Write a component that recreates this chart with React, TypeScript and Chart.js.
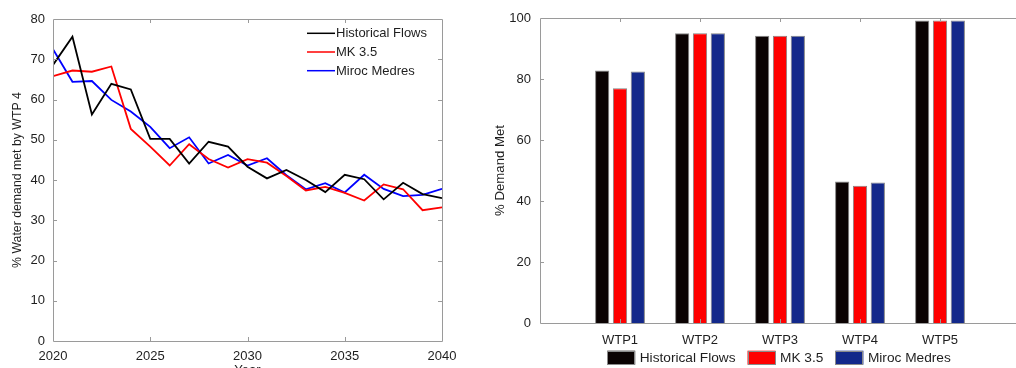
import React, { useEffect, useRef } from 'react';
import { Chart, registerables } from 'chart.js';

Chart.register(...registerables);

// ---------- Left chart data ----------
const years = [2020, 2021, 2022, 2023, 2024, 2025, 2026, 2027, 2028, 2029, 2030, 2031, 2032, 2033, 2034, 2035, 2036, 2037, 2038, 2039, 2040];
const historicalFlows = [68.6, 75.6, 56.3, 63.9, 62.5, 50.2, 50.2, 44.1, 49.5, 48.3, 43.3, 40.4, 42.5, 40.0, 37.0, 41.3, 40.2, 35.2, 39.3, 36.5, 35.5];
const mk35 = [65.8, 67.2, 66.9, 68.2, 52.7, 48.3, 43.6, 48.9, 45.2, 43.1, 45.2, 44.3, 41.0, 37.4, 38.3, 36.8, 34.9, 38.9, 37.7, 32.5, 33.2];
const mirocMedres = [72.5, 64.4, 64.6, 59.9, 57.0, 53.2, 47.9, 50.6, 44.1, 46.2, 43.6, 45.4, 41.2, 37.7, 39.2, 36.9, 41.3, 37.8, 36.0, 36.3, 37.8];
const seriesNames = ['Historical Flows', 'MK 3.5', 'Miroc Medres'];
const lineColors = ['#000000', '#ff0000', '#0000ff'];
const leftYTitle = '% Water demand met by WTP 4';
const leftXTitle = 'Year';

// ---------- Right chart data ----------
const plants = ['WTP1', 'WTP2', 'WTP3', 'WTP4', 'WTP5'];
const barHistorical = [82.8, 95.0, 94.2, 46.4, 99.2];
const barMk35 = [77.0, 95.0, 94.2, 45.0, 99.2];
const barMiroc = [82.5, 95.0, 94.2, 46.1, 99.2];
const barColors = ['#0a0202', '#ff0000', '#13288a'];
const rightYTitle = '% Demand Met';

const FONT = 'Liberation Sans, Arial, Helvetica, sans-serif';
const TEXT = '#1e1e1e';
const FRAME = '#9a9a9a';

Chart.defaults.font.family = FONT;
Chart.defaults.font.size = 13;
Chart.defaults.color = TEXT;

const framePlugin = {
  id: 'frameTicks',
  afterDatasetsDraw(chart: any, _args: any, opts: any) {
    const { ctx, chartArea, scales } = chart;
    const { left, right, top, bottom } = chartArea;
    const len = opts.len ?? 4;
    ctx.save();
    ctx.strokeStyle = FRAME;
    ctx.lineWidth = 1;
    ctx.beginPath();
    ctx.rect(Math.round(left) + 0.5, Math.round(top) + 0.5, Math.round(right - left), Math.round(bottom - top));
    const xs = scales.x;
    xs.ticks.forEach((t: any, i: number) => {
      if (opts.skipEmpty && (t.label === '' || t.label == null)) return;
      const px = Math.round(xs.getPixelForTick(i)) + 0.5;
      if (px <= left + 1 || px >= right - 1) return;
      ctx.moveTo(px, bottom);
      ctx.lineTo(px, bottom - len);
      ctx.moveTo(px, top);
      ctx.lineTo(px, top + len);
    });
    const ys = scales.y;
    ys.ticks.forEach((_t: any, i: number) => {
      const py = Math.round(ys.getPixelForTick(i)) + 0.5;
      if (py <= top + 1 || py >= bottom - 1) return;
      ctx.moveTo(left, py);
      ctx.lineTo(left + len, py);
      ctx.moveTo(right, py);
      ctx.lineTo(right - len, py);
    });
    ctx.stroke();
    ctx.restore();
  },
};

const lineLegendPlugin = {
  id: 'lineLegend',
  afterDraw(chart: any, _args: any, opts: any) {
    if (!opts || !opts.enabled) return;
    const { ctx, chartArea } = chart;
    const x0 = chartArea.right - opts.fromRight;
    const y0 = chartArea.top + opts.fromTop;
    ctx.save();
    ctx.font = `${opts.fontSize}px ${FONT}`;
    ctx.textBaseline = 'middle';
    ctx.textAlign = 'left';
    chart.data.datasets.forEach((ds: any, i: number) => {
      const y = y0 + i * opts.rowGap;
      ctx.strokeStyle = ds.borderColor;
      ctx.lineWidth = 1.5;
      ctx.beginPath();
      ctx.moveTo(x0, y);
      ctx.lineTo(x0 + opts.lineLen, y);
      ctx.stroke();
      ctx.fillStyle = TEXT;
      ctx.fillText(ds.label, x0 + opts.lineLen + 1, y + 0.5);
    });
    ctx.restore();
  },
};

const boxLegendPlugin = {
  id: 'boxLegend',
  afterDraw(chart: any, _args: any, opts: any) {
    if (!opts || !opts.enabled) return;
    const { ctx, chartArea } = chart;
    ctx.save();
    ctx.font = `${opts.fontSize}px ${FONT}`;
    ctx.textBaseline = 'middle';
    ctx.textAlign = 'left';
    const items = chart.data.datasets.map((ds: any) => ({
      label: ds.label,
      color: ds.backgroundColor,
      w: ctx.measureText(ds.label).width,
    }));
    const total = items.reduce((s: number, it: any) => s + opts.boxW + opts.textGap + it.w, 0) + opts.itemGap * (items.length - 1);
    let x = (chartArea.left + chartArea.right) / 2 + opts.centerShift - total / 2;
    const by = chartArea.bottom + opts.boxTop;
    items.forEach((it: any) => {
      ctx.fillStyle = it.color;
      ctx.fillRect(x, by, opts.boxW, opts.boxH);
      ctx.strokeStyle = '#8a8a8a';
      ctx.lineWidth = 1;
      ctx.strokeRect(Math.round(x) + 0.5, Math.round(by) + 0.5, opts.boxW - 1, opts.boxH - 1);
      ctx.fillStyle = TEXT;
      ctx.fillText(it.label, x + opts.boxW + opts.textGap, by + opts.boxH / 2 + 0.5);
      x += opts.boxW + opts.textGap + it.w + opts.itemGap;
    });
    ctx.restore();
  },
};

export default function App() {
  const leftRef = useRef<HTMLCanvasElement>(null);
  const rightRef = useRef<HTMLCanvasElement>(null);

  useEffect(() => {
    const lineSeries = [historicalFlows, mk35, mirocMedres];
    const left = new Chart(leftRef.current as HTMLCanvasElement, {
      type: 'line',
      data: {
        datasets: lineSeries.map((vals, k) => ({
          label: seriesNames[k],
          data: years.map((yr, i) => ({ x: yr, y: vals[i] })),
          borderColor: lineColors[k],
          backgroundColor: lineColors[k],
          borderWidth: 1.8,
          pointRadius: 0,
          tension: 0,
          fill: false,
        })),
      },
      options: {
        animation: false,
        responsive: false,
        events: [],
        layout: { padding: { left: 0, right: 28, top: 19, bottom: 0 } },
        plugins: {
          legend: { display: false },
          tooltip: { enabled: false },
          frameTicks: { len: 4 },
          lineLegend: { enabled: true, fromRight: 135, fromTop: 14.3, rowGap: 18.7, lineLen: 28, fontSize: 13 },
        } as any,
        scales: {
          x: {
            type: 'linear',
            min: 2020,
            max: 2040,
            ticks: { stepSize: 5, padding: 8, color: TEXT, font: { size: 13 }, callback: (v: any) => String(v) },
            grid: { display: false, drawTicks: false },
            border: { display: false },
            title: { display: true, text: leftXTitle, color: TEXT, font: { size: 13 }, padding: { top: 0, bottom: 2 } },
            afterFit: (s: any) => { s.height = 39; },
          },
          y: {
            type: 'linear',
            min: 0,
            max: 80,
            ticks: { stepSize: 10, padding: 8, color: TEXT, font: { size: 13 } },
            grid: { display: false, drawTicks: false },
            border: { display: false },
            title: { display: true, text: leftYTitle, color: TEXT, font: { size: 12.3 }, padding: { top: 10.5, bottom: 0 } },
            afterFit: (s: any) => { s.width = 53; },
          },
        },
      },
      plugins: [framePlugin, lineLegendPlugin],
    } as any);

    const barSeries = [barHistorical, barMk35, barMiroc];
    const right = new Chart(rightRef.current as HTMLCanvasElement, {
      type: 'bar',
      data: {
        labels: ['', ...plants, ''],
        datasets: barSeries.map((vals, k) => ({
          label: seriesNames[k],
          data: [null, ...vals, null],
          backgroundColor: barColors[k],
          borderColor: '#858585',
          borderWidth: 1,
          categoryPercentage: 0.668,
          barPercentage: 0.8,
        })),
      },
      options: {
        animation: false,
        responsive: false,
        events: [],
        layout: { padding: { left: 0, right: 5, top: 18, bottom: 24 } },
        plugins: {
          legend: { display: false },
          tooltip: { enabled: false },
          frameTicks: { len: 4, skipEmpty: true },
          boxLegend: { enabled: true, fontSize: 13.7, boxW: 28, boxH: 14, textGap: 4.5, itemGap: 12, boxTop: 27.7, centerShift: -1 },
        } as any,
        scales: {
          x: {
            type: 'category',
            offset: false,
            ticks: { padding: 10, autoSkip: false, maxRotation: 0, color: TEXT, font: { size: 13 } },
            grid: { display: false, drawTicks: false, offset: false },
            border: { display: false },
            afterFit: (s: any) => { s.height = 21; },
          },
          y: {
            type: 'linear',
            min: 0,
            max: 100,
            ticks: { stepSize: 20, padding: 9, color: TEXT, font: { size: 13 } },
            grid: { display: false, drawTicks: false },
            border: { display: false },
            title: { display: true, text: rightYTitle, color: TEXT, font: { size: 13.2 }, padding: { top: 22, bottom: 0 } },
            afterFit: (s: any) => { s.width = 70; },
          },
        },
      },
      plugins: [framePlugin, boxLegendPlugin],
    } as any);

    return () => {
      left.destroy();
      right.destroy();
    };
  }, []);

  return (
    <div style={{ position: 'fixed', left: 0, top: 0, width: 1016, height: 368, overflow: 'hidden', background: '#ffffff' }}>
      <canvas ref={leftRef} width={470} height={380} style={{ position: 'absolute', left: 0, top: 0, display: 'block' }} />
      <canvas ref={rightRef} width={560} height={368} style={{ position: 'absolute', left: 470, top: 0, display: 'block' }} />
    </div>
  );
}
